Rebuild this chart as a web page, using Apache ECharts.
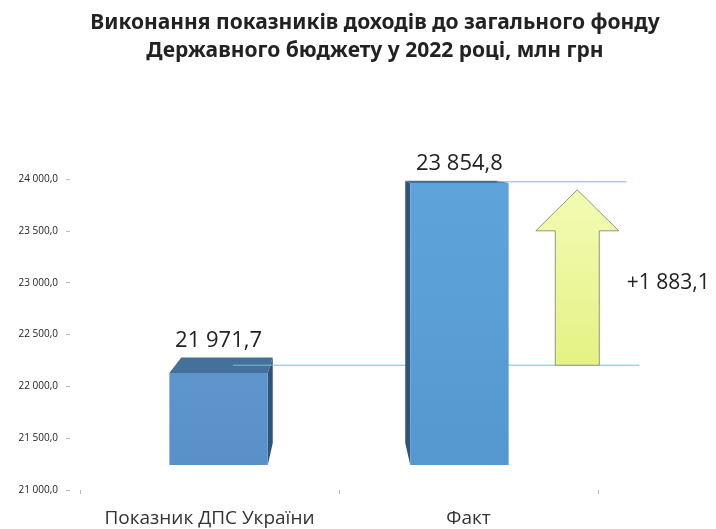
<!DOCTYPE html>
<html>
<head>
<meta charset="utf-8">
<script src="https://cdn.jsdelivr.net/npm/echarts@6/dist/echarts.min.js"></script>
<style>
  html, body { margin: 0; padding: 0; background: #fff; }
  #main { width: 716px; height: 529px; }
</style>
</head>
<body>
<div id="main"></div>
<script>
// дані
const categories = ['Показник ДПС України', 'Факт'];
const values = [21971.7, 23854.8];
// шкала осі Y
const yMin = 21000;
const yMax = 24000;
const yStep = 500;

// 1883.1 -> "1 883,1"
function fmt(v) {
  const parts = v.toFixed(1).split('.');
  return parts[0].replace(/\B(?=(\d{3})+(?!\d))/g, ' ') + ',' + parts[1];
}

const K = 0.07; // глибина "3D"

function persp(p, vx, vy, k) {
  return [p[0] + (vx - p[0]) * k, p[1] + (vy - p[1]) * k];
}

function renderBar(params, api) {
  const idx = params.dataIndex;
  const cs = params.coordSys;
  const vx = cs.x + cs.width / 2;
  const vy = cs.y - 29;
  const band = api.size([1, 0])[0];
  const top = api.coord([api.value(0), api.value(1)]);
  const bottomY = cs.y + cs.height;
  const cx = top[0] + (vx - top[0]) * K;
  const hw = band * 0.19;
  const fl = [cx - hw, top[1]], fr = [cx + hw, top[1]];
  const bl = persp(fl, vx, vy, K), br = persp(fr, vx, vy, K);
  const fbl = [cx - hw, bottomY], fbr = [cx + hw, bottomY];
  const bbl = persp(fbl, vx, vy, K), bbr = persp(fbr, vx, vy, K);
  const children = [];
  // бічна грань
  if (fr[0] < vx) {
    children.push({ type: 'polygon', shape: { points: [fr, br, bbr, fbr] }, style: { fill: '#2f5478' } });
  } else if (fl[0] > vx) {
    children.push({ type: 'polygon', shape: { points: [fl, bl, bbl, fbl] }, style: { fill: '#2f5478' } });
  }
  // верх
  children.push({ type: 'polygon', shape: { points: [fl, fr, br, bl] }, style: { fill: '#44709a' } });
  // фронт
  children.push({
    type: 'rect',
    shape: { x: fl[0], y: fl[1], width: hw * 2, height: bottomY - fl[1] },
    style: {
      fill: new echarts.graphic.LinearGradient(0, 0, 0, 1, [
        { offset: 0, color: idx === 0 ? '#5d95cc' : '#5ea4db' },
        { offset: 1, color: idx === 0 ? '#5a90c8' : '#5598d0' }
      ])
    }
  });
  // горизонтальна лінія рівня
  const midY = top[1] + (vy - top[1]) * K / 2;
  const x1 = idx === 0 ? cx + band * 0.055 : br[0];
  const x2 = cs.x + cs.width + band * (idx === 0 ? 0.16 : 0.11);
  children.push({
    type: 'line',
    shape: { x1: x1, y1: midY, x2: x2, y2: midY },
    style: { stroke: '#72c0dc', lineWidth: 1 }
  });
  // підпис значення
  children.push({
    type: 'text',
    style: {
      x: cx, y: bl[1] - 6,
      text: fmt(api.value(1)),
      align: 'center', verticalAlign: 'bottom',
      font: '22px "Open Sans"', fill: '#222'
    }
  });
  return { type: 'group', children: children };
}

function renderArrow(params, api) {
  const cs = params.coordSys;
  const vy = cs.y - 29;
  const band = api.size([1, 0])[0];
  const lo = api.coord([api.value(0), api.value(1)]);
  const hi = api.coord([api.value(0), api.value(2)]);
  const ax = lo[0] + band * 0.42;
  const yb = lo[1] + (vy - lo[1]) * K / 2;
  const yt = hi[1] + (vy - hi[1]) * K / 2 + 8;
  const hw = band * 0.16, sw = band * 0.085, hh = 41;
  return {
    type: 'group',
    children: [{
      type: 'polygon',
      shape: { points: [[ax, yt], [ax + hw, yt + hh], [ax + sw, yt + hh], [ax + sw, yb], [ax - sw, yb], [ax - sw, yt + hh], [ax - hw, yt + hh]] },
      style: {
        fill: new echarts.graphic.LinearGradient(0, 0, 0, 1, [
          { offset: 0, color: '#f3fbb4' },
          { offset: 1, color: '#e4f284' }
        ]),
        stroke: '#8f9a78', lineWidth: 1
      }
    }, {
      type: 'text',
      style: {
        x: ax + hw + 8, y: (yt + yb) / 2 + 6,
        text: '+' + fmt(api.value(2) - api.value(1)),
        align: 'left', verticalAlign: 'middle',
        font: '21px "Open Sans"', fill: '#222'
      }
    }]
  };
}

const myChart = echarts.init(document.getElementById('main'));
const option = {
  backgroundColor: '#fff',
  animation: false,
  title: {
    text: 'Виконання показників доходів до загального фонду\nДержавного бюджету у 2022 році, млн грн',
    left: 370,
    top: 4,
    textAlign: 'center',
    textStyle: { fontFamily: 'Noto Sans', fontWeight: 'bold', fontSize: 21, lineHeight: 28, color: '#222' }
  },
  grid: [
    { left: 80, right: 118, top: 179, bottom: 39 },
    { left: 80, right: 118, top: 179, bottom: 64 }
  ],
  xAxis: [{
    gridIndex: 0,
    type: 'category',
    data: categories,
    axisLine: { show: false },
    axisTick: { show: true, interval: 0, length: 4, lineStyle: { color: '#bbb' } },
    axisLabel: { interval: 0, hideOverlap: false, margin: 19, fontFamily: 'Open Sans', fontSize: 19, color: '#333' }
  }, {
    gridIndex: 1,
    type: 'category',
    data: categories,
    show: false
  }],
  yAxis: [{
    gridIndex: 0,
    type: 'value',
    min: yMin,
    max: yMax,
    interval: yStep,
    offset: 10,
    axisLine: { show: false },
    axisTick: { show: true, length: 4, lineStyle: { color: '#bbb' } },
    splitLine: { show: false },
    axisLabel: { margin: 12, formatter: fmt, fontFamily: 'Open Sans', fontSize: 10, color: '#222' }
  }, {
    gridIndex: 1,
    type: 'value',
    min: 21060,
    max: 23894,
    show: false,
    splitLine: { show: false }
  }],
  series: [{
    type: 'custom',
    xAxisIndex: 1,
    yAxisIndex: 1,
    renderItem: renderBar,
    encode: { x: 0, y: 1 },
    data: values.map((v, i) => [i, v])
  }, {
    type: 'custom',
    xAxisIndex: 1,
    yAxisIndex: 1,
    renderItem: renderArrow,
    encode: { x: 0, y: [1, 2] },
    data: [[1, values[0], values[1]]],
    z: 3
  }]
};
myChart.setOption(option);
</script>
</body>
</html>
